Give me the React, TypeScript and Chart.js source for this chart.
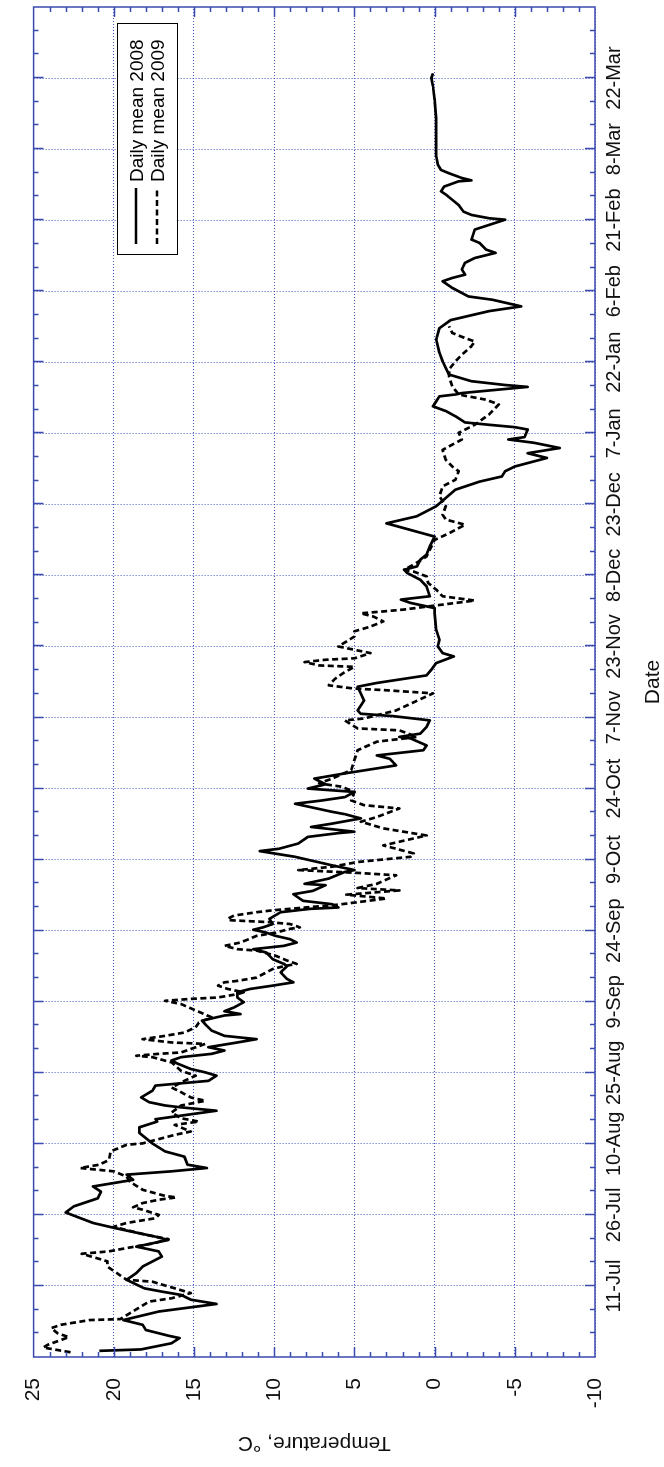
import React, { useEffect, useRef } from 'react';
import { Chart, registerables } from 'chart.js';

Chart.register(...registerables);

// Days counted from 26-Jun (day 0)
const days2008 = [
  1.3, 1.6, 2.9, 4.0, 4.5, 5.7, 6.8, 7.8, 9.6, 11.2, 12.1, 13.1, 13.8, 14.5, 16.3, 17.7, 19.1, 21.2, 22.3, 23.3,
  24.7, 25.4, 27.2, 28.3, 30.5, 31.8, 33.5, 34.9, 36.0, 37.4, 38.5, 39.2, 39.9, 40.6, 42.3, 43.4, 45.1, 47.3, 48.5, 49.7,
  50.2, 52.0, 52.7, 53.1, 53.8, 54.8, 56.2, 57.3, 58.3, 59.4, 60.1, 60.8, 61.9, 62.6, 63.3, 64.0, 64.7, 65.4, 66.4, 67.1,
  67.8, 68.9, 69.9, 71.0, 72.1, 72.4, 73.0, 73.8, 74.9, 75.9, 77.0, 77.7, 78.4, 79.1, 79.8, 81.2, 82.5, 83.0, 84.0, 85.4,
  86.1, 86.8, 87.5, 88.2, 88.9, 89.6, 90.2, 90.7, 91.4, 92.5, 93.9, 94.6, 94.9, 95.6, 96.3, 97.7, 98.4,
  99.6, 99.9, 101.0, 102.4, 102.8, 103.8, 105.6, 106.8, 107.3, 108.4, 109.8, 110.6, 110.9, 111.9, 112.6, 113.7, 114.6, 115.1,
  116.8, 117.5, 118.2, 119.3, 120.0, 120.9, 122.1, 123.2, 124.9, 126.3, 127.0, 128.1, 129.1, 130.6, 130.9, 131.6, 133.0, 134.4,
  135.3, 135.8, 136.5, 138.6, 140.1, 141.5, 142.3, 143.9,
  145.1, 146.5, 147.9, 148.6, 150.0, 151.4, 153.5, 157.0, 158.1, 159.2, 159.9, 160.6, 162.7, 164.1, 165.5, 166.2, 166.9, 168.3,
  169.4, 171.1, 172.5, 173.2, 176.0, 177.5, 179.6, 183.1, 184.8, 185.9, 187.0, 188.0, 189.8, 190.8,
  191.9, 193.0, 193.7, 194.2, 195.8, 196.3, 196.8, 197.3, 198.6, 199.7, 200.7, 202.8, 203.2, 203.5, 204.8, 205.2, 206.0, 207.4,
  208.8, 210.2, 212.0, 214.8, 217.2, 218.9, 220.8, 221.8, 223.2, 223.9, 225.7, 227.1, 227.8, 228.5, 229.6, 231.0, 232.0, 233.1,
  233.8, 235.2, 235.9, 238.0, 239.0, 240.1, 240.4, 241.1, 241.8, 243.2, 244.3, 245.4, 246.1, 247.1, 248.2, 248.4, 248.9, 249.9,
  250.6, 251.7, 253.5, 258.4, 261.5, 265.4, 268.2, 270.0, 271.0,
];
const temp2008 = [
  20.9, 18.3, 16.4, 15.9, 16.6, 18.0, 18.2, 19.4, 17.2, 13.6, 15.2, 15.8, 17.0, 18.1, 19.2, 18.6, 18.2, 17.0, 17.2, 18.6,
  16.6, 17.4, 19.9, 21.3, 23.0, 22.5, 21.0, 20.8, 21.3, 18.8, 19.2, 16.4, 14.2, 15.4, 15.6, 16.8, 17.6, 18.4, 18.4, 17.3,
  17.4, 13.6, 15.8, 16.8, 17.8, 18.3, 17.6, 17.4, 14.1, 13.6, 14.3, 15.2, 16.0, 16.4, 15.8, 13.9, 13.1, 14.1, 12.3, 11.1,
  13.1, 13.9, 14.2, 14.5, 13.1, 12.1, 13.1, 12.5, 11.9, 12.3, 12.3, 11.5, 10.1, 8.8, 9.2, 9.6, 9.2, 9.4, 10.1, 10.5,
  11.3, 9.4, 8.6, 9.0, 9.9, 10.5, 11.3, 10.7, 10.1, 10.3, 9.6, 7.8, 6.0, 6.4, 8.2, 8.8, 7.6,
  6.8, 8.1, 6.6, 5.6, 5.0, 6.4, 8.7, 10.9, 9.7, 8.5, 7.9, 6.0, 5.0, 7.7, 6.4, 4.6, 5.6, 6.4,
  8.7, 7.0, 5.6, 5.0, 7.9, 6.8, 7.5, 5.6, 2.4, 2.8, 3.6, 0.7, 0.5, 1.5, 2.2, 0.9, 0.5, 0.3,
  2.6, 4.6, 4.8, 4.4, 4.6, 4.8, 3.6, 0.5,
  0.2, -0.1, -1.2, -0.5, -0.2, -0.3, -0.1, 0.0, 0.0, 1.5, 2.1, 0.3, 0.5, 0.9, 1.7, 1.9, 1.1, 0.9,
  0.5, 0.3, 0.1, 0.0, 3.0, 1.1, -0.1, -1.3, -2.8, -4.2, -4.4, -5.0, -7.0, -5.8,
  -7.8, -6.2, -4.6, -5.6, -5.8, -5.0, -3.4, -1.9, -1.3, -0.7, 0.1, -0.3, -1.3, -1.7, -5.8, -4.4, -2.3, -0.9,
  -0.7, -0.5, -0.3, -0.1, -0.3, -1.0, -3.4, -5.4, -3.6, -2.1, -1.1, -0.5, -1.1, -1.9, -1.7, -1.9, -2.5, -3.8,
  -3.2, -2.8, -2.3, -2.5, -3.4, -4.4, -3.4, -2.3, -1.8, -1.5, -1.1, -0.7, -0.4, -0.6, -1.5, -2.3, -1.7, -0.9,
  -0.4, -0.2, -0.1, -0.1, -0.1, 0.0, 0.1, 0.2, 0.1,
];

const days2009 = [
  1.0, 2.0, 2.6, 4.2, 5.0, 6.1, 6.8, 7.8, 8.0, 11.7, 12.4, 13.5, 15.9, 16.3, 17.7, 19.1, 20.2, 21.8, 22.3, 23.0,
  24.0, 24.9, 25.8, 26.8, 27.5, 28.3, 29.3, 30.0, 31.1, 31.6, 32.5, 33.2, 33.7, 34.0, 35.3, 37.0, 38.1, 39.2, 39.9, 40.6,
  41.6, 43.4, 44.8, 45.1, 46.9, 47.6, 49.0, 49.7,
  50.4, 51.6, 53.1, 54.1, 54.8, 55.9, 56.9, 58.3, 59.4, 60.4, 62.2, 63.3, 63.6, 64.0, 64.3, 66.1, 66.4, 67.1, 67.8, 68.5,
  69.6, 70.6, 71.7, 74.5, 75.2, 75.6, 75.9, 76.6, 77.0, 77.7, 78.4, 79.1, 79.4, 80.1, 81.9, 82.5, 83.0, 83.7, 84.7, 85.8,
  86.1, 86.8, 87.5, 88.9, 89.6, 90.4, 90.7, 91.4, 91.8, 92.0, 92.2, 92.5, 93.2, 93.9, 94.3, 95.5, 96.8, 97.6,
  98.5, 99.0, 99.9, 101.7, 102.2, 102.8, 103.5, 104.5, 105.6, 106.3, 107.3, 108.0, 110.1, 111.6, 113.0, 114.0, 115.8, 116.5,
  117.5, 119.3, 120.4, 121.1, 122.1, 123.9, 128.1, 129.9, 130.9, 132.3, 132.7, 134.4, 134.8, 136.5, 140.1, 140.8, 141.1, 141.8,
  143.2, 144.6, 145.7, 146.0, 146.7,
  147.2, 147.5, 148.6, 149.3, 150.0, 152.1, 153.2, 154.2, 155.3, 156.3, 157.0, 157.4, 157.8, 158.5, 159.7, 160.6, 162.0, 163.4,
  164.8, 165.8, 166.2, 167.3, 169.0, 170.4, 172.5, 173.9, 175.7, 176.8, 177.8, 179.6, 181.7, 183.8, 185.2, 187.0, 188.0, 189.4,
  191.5, 193.7, 195.1, 196.8, 199.0, 201.1, 202.1, 202.8, 203.2, 204.9, 207.0, 208.5, 210.2, 211.6, 213.4, 214.4, 215.1, 216.2,
  217.6,
];
const temp2009 = [
  22.7, 24.4, 24.1, 22.8, 23.5, 23.9, 23.3, 21.5, 19.6, 17.8, 16.4, 15.2, 17.6, 19.2, 19.8, 20.4, 20.4, 22.0, 20.3, 19.2,
  17.5, 16.6, 18.0, 19.2, 20.0, 19.2, 17.4, 17.2, 18.2, 18.8, 18.2, 17.2, 16.1, 16.8, 18.2, 19.0, 19.2, 20.0, 22.1, 20.9,
  20.3, 20.2, 19.2, 18.2, 16.2, 15.2, 16.2, 14.7,
  15.8, 16.4, 15.8, 14.3, 15.2, 15.8, 16.4, 15.6, 14.9, 15.8, 16.4, 17.6, 18.6, 17.2, 15.8, 14.3, 16.4, 18.2, 16.8, 15.6,
  14.9, 14.7, 13.9, 15.8, 16.8, 15.2, 13.5, 12.3, 11.9, 12.9, 13.5, 13.1, 12.3, 11.1, 10.1, 9.4, 8.6, 9.2, 9.9, 11.1,
  12.3, 13.1, 12.1, 11.1, 9.9, 9.0, 8.4, 9.0, 10.3, 11.5, 12.7, 12.9, 12.5, 11.1, 10.1, 6.0, 3.0, 5.5,
  2.2, 4.8, 3.6, 2.4, 4.8, 8.5, 6.4, 4.8, 1.5, 1.3, 2.4, 3.2, 0.5, 3.2, 4.6, 3.6, 2.2, 4.4,
  5.2, 5.0, 5.8, 7.2, 6.4, 5.2, 4.8, 3.6, 1.1, 2.2, 4.8, 5.6, 4.4, 2.4, 0.1, 3.2, 5.0, 6.6,
  6.2, 5.6, 5.0, 7.2, 8.1,
  6.8, 5.0, 4.0, 5.0, 6.0, 5.0, 5.0, 4.0, 3.2, 3.8, 4.6, 3.2, 1.9, 0.3, -2.5, -0.5, -0.1, 0.4,
  0.5, 1.3, 1.9, 1.3, 0.5, 0.3, 0.0, -0.9, -1.9, -0.7, -0.5, -0.7, -0.3, -0.5, -1.3, -1.5, -1.1, -0.7,
  -0.5, -1.7, -1.5, -2.5, -3.4, -4.0, -3.2, -2.1, -1.5, -1.1, -0.9, -0.9, -1.3, -1.7, -2.3, -2.5, -1.9, -1.1,
  -0.9,
];

const seriesLabels = ['Daily mean 2008', 'Daily mean 2009'];
const dateTickDays = [15, 30, 45, 60, 75, 90, 105, 120, 135, 150, 165, 180, 195, 210, 225, 240, 255, 270];
const dateTickLabels = [
  '11-Jul', '26-Jul', '10-Aug', '25-Aug', '9-Sep', '24-Sep', '9-Oct', '24-Oct', '7-Nov',
  '23-Nov', '8-Dec', '23-Dec', '7-Jan', '22-Jan', '6-Feb', '21-Feb', '8-Mar', '22-Mar',
];
const tempTicks = [-10, -5, 0, 5, 10, 15, 20, 25];

const FONT = "'Liberation Sans', Arial, Helvetica, sans-serif";
const AXIS = '#3a4aae';
const GRID = '#4556c2';
const W = 1467;
const H = 664;

const framePlugin = {
  id: 'frame',
  afterDraw(chart: any) {
    const { ctx, chartArea: a, scales } = chart;
    const xs = scales.x;
    const ys = scales.y;
    ctx.save();
    ctx.setLineDash([]);
    ctx.strokeStyle = AXIS;
    ctx.lineWidth = 1.5;
    ctx.beginPath();
    for (let d = 5; d < xs.max; d += 5) {
      const px = Math.round(xs.getPixelForValue(d)) + 0.5;
      const len = d % 15 === 0 ? 10 : 5;
      ctx.moveTo(px, a.bottom);
      ctx.lineTo(px, a.bottom - len);
      ctx.moveTo(px, a.top);
      ctx.lineTo(px, a.top + len);
    }
    for (let t = ys.min + 1; t < ys.max; t += 1) {
      const py = Math.round(ys.getPixelForValue(t)) + 0.5;
      const len = t % 5 === 0 ? 10 : 5;
      ctx.moveTo(a.left, py);
      ctx.lineTo(a.left + len, py);
      ctx.moveTo(a.right, py);
      ctx.lineTo(a.right - len, py);
    }
    ctx.stroke();
    ctx.strokeRect(a.left, a.top, a.right - a.left, a.bottom - a.top);

    // legend box
    const bx = 1212, by = 117, bw = 231, bh = 60;
    ctx.fillStyle = '#fff';
    ctx.fillRect(bx, by, bw, bh);
    ctx.strokeStyle = '#000';
    ctx.lineWidth = 1;
    ctx.strokeRect(bx + 0.5, by + 0.5, bw, bh);
    const rows = [136, 157];
    chart.data.datasets.forEach((ds: any, i: number) => {
      const y = rows[i];
      ctx.strokeStyle = ds.borderColor;
      ctx.lineWidth = ds.borderWidth;
      ctx.setLineDash(ds.borderDash || []);
      ctx.beginPath();
      ctx.moveTo(1223, y);
      ctx.lineTo(1279, y);
      ctx.stroke();
      ctx.setLineDash([]);
      ctx.fillStyle = '#000';
      ctx.font = `19px ${FONT}`;
      ctx.textBaseline = 'alphabetic';
      ctx.textAlign = 'left';
      ctx.fillText(ds.label, 1285, y + 6.5);
    });
    ctx.restore();
  },
};

export default function App() {
  const ref = useRef<HTMLCanvasElement>(null);
  useEffect(() => {
    if (!ref.current) return;
    const chart = new Chart(ref.current, {
      type: 'line',
      data: {
        datasets: [
          {
            label: seriesLabels[0],
            data: days2008.map((d, i) => ({ x: d, y: temp2008[i] })),
            borderColor: '#000',
            borderWidth: 2.7,
            pointRadius: 0,
            tension: 0,
            fill: false,
            borderJoinStyle: 'round',
          },
          {
            label: seriesLabels[1],
            data: days2009.map((d, i) => ({ x: d, y: temp2009[i] })),
            borderColor: '#000',
            borderWidth: 2.7,
            borderDash: [6, 3.5],
            pointRadius: 0,
            tension: 0,
            fill: false,
            borderJoinStyle: 'round',
          },
        ],
      },
      options: {
        responsive: false,
        animation: false,
        devicePixelRatio: 1,
        layout: { padding: { top: 23, right: 7, left: 0, bottom: 0 } },
        plugins: { legend: { display: false }, tooltip: { enabled: false }, title: { display: false } },
        scales: {
          x: {
            type: 'linear',
            min: 0,
            max: 285,
            afterBuildTicks: (s: any) => {
              s.ticks = dateTickDays.map((v) => ({ value: v }));
            },
            afterFit: (s: any) => {
              s.height = 69;
            },
            ticks: {
              autoSkip: false,
              maxRotation: 0,
              minRotation: 0,
              padding: 7,
              color: '#111',
              font: { family: FONT, size: 20 },
              callback: (v: any) => {
                const i = dateTickDays.indexOf(Number(v));
                return i >= 0 ? dateTickLabels[i] : '';
              },
            },
            grid: { color: GRID, lineWidth: 1, drawTicks: false },
            border: { display: false, dash: [1, 2] },
            title: {
              display: true,
              text: 'Date',
              color: '#111',
              font: { family: FONT, size: 21, lineHeight: 1 },
              padding: { top: 0, bottom: 0.5 },
            },
          },
          y: {
            type: 'linear',
            min: -10,
            max: 25,
            afterBuildTicks: (s: any) => {
              s.ticks = tempTicks.map((v) => ({ value: v }));
            },
            afterFit: (s: any) => {
              s.width = 110;
            },
            ticks: {
              padding: 21,
              color: '#111',
              font: { family: FONT, size: 21 },
            },
            grid: { color: GRID, lineWidth: 1, drawTicks: false },
            border: { display: false, dash: [1, 2] },
            title: {
              display: true,
              text: 'Temperature, °C',
              color: '#111',
              font: { family: FONT, size: 21, lineHeight: 1 },
              padding: { top: 13.5, bottom: 0 },
            },
          },
        },
      },
      plugins: [framePlugin],
    } as any);
    return () => chart.destroy();
  }, []);

  return (
    <div style={{ position: 'absolute', left: 0, top: 0, width: H, height: W, overflow: 'hidden', background: '#fff' }}>
      <div
        style={{
          position: 'absolute',
          left: 0,
          top: 0,
          width: W,
          height: H,
          transformOrigin: '0 0',
          transform: `translate(0px, ${W}px) rotate(-90deg)`,
        }}
      >
        <canvas ref={ref} width={W} height={H} style={{ display: 'block', width: W, height: H }} />
      </div>
    </div>
  );
}
